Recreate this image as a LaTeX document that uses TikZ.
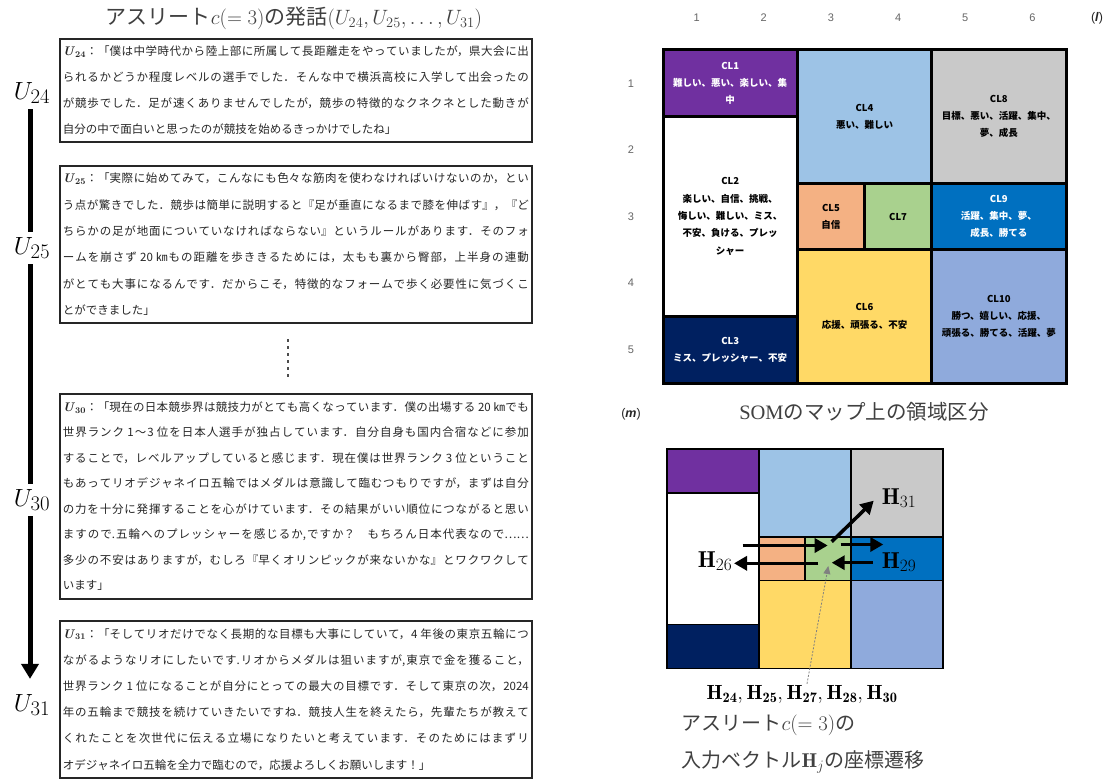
\documentclass[tikz,border=0pt]{standalone}
\usepackage{fontspec}
\usetikzlibrary{arrows.meta}
\newfontfamily\jp{Noto Sans CJK JP}
\newfontfamily\lsans{Liberation Sans}
\newfontfamily\lserif{Liberation Serif}
\XeTeXlinebreaklocale "ja"
\XeTeXlinebreakskip=0pt plus 2pt minus 0.2pt
\setlength\parindent{0pt}
\hbadness=10000
\tolerance=9999
\definecolor{cpur}{HTML}{7030A0}
\definecolor{cnavy}{HTML}{002060}
\definecolor{clblue}{HTML}{9DC3E6}
\definecolor{corange}{HTML}{F4B183}
\definecolor{cgreen}{HTML}{A9D18E}
\definecolor{cyellow}{HTML}{FFD966}
\definecolor{cgray}{HTML}{C9C9C9}
\definecolor{cblue}{HTML}{0070C0}
\definecolor{cperi}{HTML}{8FAADC}
\definecolor{captxt}{HTML}{404040}
\newcommand{\bH}[1]{\mathbf{H}_{\mathbf{#1}}}
\newcommand{\qU}[1]{{\rmfamily\bfseries\fontsize{12.5}{12.5}\selectfont\textit{U}\textsubscript{#1}}}
\begin{document}
\begin{tikzpicture}[x=1pt,y=-1pt,
  quote/.style={draw=black!85, line width=1.6, text width=466, inner xsep=3, inner ysep=0,
    align=justify, anchor=north west, text=black!85},
  ulabel/.style={font=\fontsize{28}{30}\selectfont, inner xsep=2, inner ysep=5},
  axisline/.style={line width=5},
  cell/.style={draw=black, line width=3, inner sep=0, align=center,
    font=\jp\bfseries\fontsize{9.5}{17.3}\selectfont},
  bcell/.style={draw=black, line width=1.4, inner sep=0},
  lab/.style={font=\lsans\fontsize{11}{12}\selectfont, text=black!60},
  harrow/.style={line width=3.5, -{Triangle[length=13pt,width=14pt]}},
  hlab/.style={font=\fontsize{23}{24}\selectfont, inner sep=1},
  captext/.style={text=captxt, anchor=west, font=\fontsize{20}{22}\selectfont}
]
\useasboundingbox (0,0) rectangle (1110,781);
\fill[white] (0,0) rectangle (1110,781);

% ---------- title ----------
\node[font=\fontsize{21}{24}\selectfont, text=captxt] (title) at (294,18) {{\jp アスリート}$c(=3)${\jp の発話}$(U_{24},U_{25},\dots,U_{31})$};

% ---------- quotes ----------
\node[quote, minimum height=103, font=\jp\fontsize{11.5}{26}\selectfont] (q24) at (59,38) {%
\qU{24}：「僕は中学時代から陸上部に所属して長距離走をやっていましたが，県大会に出\linebreak
られるかどうか程度レベルの選手でした．そんな中で横浜高校に入学して出会ったの\linebreak
が競歩でした．足が速くありませんでしたが，競歩の特徴的なクネクネとした動きが\linebreak
自分の中で面白いと思ったのが競技を始めるきっかけでしたね」};

\node[quote, minimum height=157, font=\jp\fontsize{11.5}{26.3}\selectfont] (q25) at (59,165) {%
\qU{25}：「実際に始めてみて，こんなにも色々な筋肉を使わなければいけないのか，とい\linebreak
う点が驚きでした．競歩は簡単に説明すると『足が垂直になるまで膝を伸ばす』，『ど\linebreak
ちらかの足が地面についていなければならない』というルールがあります．そのフォ\linebreak
ームを崩さず 20 ㎞もの距離を歩ききるためには，太もも裏から臀部，上半身の連動\linebreak
がとても大事になるんです．だからこそ，特徴的なフォームで歩く必要性に気づくこ\linebreak
とができました」};

\draw[black!70, line width=2.5, dash pattern=on 2.5pt off 4.5pt] (288,339) -- (288,378);

\node[quote, minimum height=205, font=\jp\fontsize{11.5}{25.5}\selectfont] (q30) at (59,393) {%
\qU{30}：「現在の日本競歩界は競技力がとても高くなっています．僕の出場する 20 ㎞でも\linebreak
世界ランク 1～3 位を日本人選手が独占しています．自分自身も国内合宿などに参加\linebreak
することで，レベルアップしていると感じます．現在僕は世界ランク 3 位ということ\linebreak
もあってリオデジャネイロ五輪ではメダルは意識して臨むつもりですが，まずは自分\linebreak
の力を十分に発揮することを心がけています．その結果がいい順位につながると思い\linebreak
ますので.五輪へのプレッシャーを感じるか,ですか？　もちろん日本代表なので……\linebreak
多少の不安はありますが，むしろ『早くオリンピックが来ないかな』とワクワクして\linebreak
います」};

\node[quote, minimum height=157, font=\jp\fontsize{11.5}{26.2}\selectfont] (q31) at (59,620) {%
\qU{31}：「そしてリオだけでなく長期的な目標も大事にしていて，4 年後の東京五輪につ\linebreak
ながるようなリオにしたいです.リオからメダルは狙いますが,東京で金を獲ること，\linebreak
世界ランク 1 位になることが自分にとっての最大の目標です．そして東京の次，2024\linebreak
年の五輪まで競技を続けていきたいですね．競技人生を終えたら，先輩たちが教えて\linebreak
くれたことを次世代に伝える立場になりたいと考えています．そのためにはまずリ\linebreak
オデジャネイロ五輪を全力で臨むので，応援よろしくお願いします！」};

% ---------- left axis ----------
\node[ulabel] (u24) at (32,93) {$U_{24}$};
\node[ulabel] (u25) at (32,248) {$U_{25}$};
\node[ulabel] (u30) at (32,500) {$U_{30}$};
\node[ulabel] (u31) at (32,705) {$U_{31}$};
\coordinate (ax) at (30,0);
\draw[axisline] (u24.south -| ax) -- (u25.north -| ax);
\draw[axisline] (u25.south -| ax) -- (u30.north -| ax);
\draw[axisline, -{Triangle[length=15pt,width=17pt]}, shorten >=10pt] (u30.south -| ax) -- (u31.north -| ax);

% ---------- SOM map ----------
\node[lab] (c1) at (696.6,18) {1};
\node[lab] (c2) at (763.75,18) {2};
\node[lab] (c3) at (830.9,18) {3};
\node[lab] (c4) at (898.1,18) {4};
\node[lab] (c5) at (965.25,18) {5};
\node[lab] (c6) at (1032.4,18) {6};
\node[lab, text=black!85, font=\lsans\fontsize{12.5}{13}\selectfont] (cl) at (1097,18) {(\textbf{\textit{l}})};
\node[lab] (r1) at (631,83.3) {1};
\node[lab] (r2) at (631,149.9) {2};
\node[lab] (r3) at (631,216.5) {3};
\node[lab] (r4) at (631,283.1) {4};
\node[lab] (r5) at (631,349.7) {5};
\node[lab, text=black!85, font=\lsans\fontsize{12.5}{13}\selectfont] (rm) at (631,414) {(\textbf{\textit{m}})};

\node[cell, fill=cpur, text=white, minimum width=134.33, minimum height=66.6] (cl1) at (730.17,83.3) {CL1\\難しい、悪い、楽しい、集\\中};
\node[cell, fill=white, minimum width=134.33, minimum height=199.8] (cl2) at (730.17,216.5) {CL2\\楽しい、自信、挑戦、\\悔しい、難しい、ミス、\\不安、負ける、プレッ\\シャー};
\node[cell, fill=cnavy, text=white, minimum width=134.33, minimum height=66.6] (cl3) at (730.17,349.7) {CL3\\ミス、プレッシャー、不安};
\node[cell, fill=clblue, minimum width=134.33, minimum height=133.2] (cl4) at (864.5,116.6) {CL4\\悪い、難しい};
\node[cell, fill=corange, minimum width=67.17, minimum height=66.6] (cl5) at (830.92,216.5) {CL5\\自信};
\node[cell, fill=cgreen, minimum width=67.17, minimum height=66.6] (cl7) at (898.08,216.5) {CL7};
\node[cell, fill=cyellow, minimum width=134.33, minimum height=133.2] (cl6) at (864.5,316.4) {CL6\\応援、頑張る、不安};
\node[cell, fill=cgray, minimum width=134.33, minimum height=133.2] (cl8) at (998.83,116.6) {CL8\\目標、悪い、活躍、集中、\\夢、成長};
\node[cell, fill=cblue, text=white, minimum width=134.33, minimum height=66.6] (cl9) at (998.83,216.5) {CL9\\活躍、集中、夢、\\成長、勝てる};
\node[cell, fill=cperi, minimum width=134.33, minimum height=133.2] (cl10) at (998.83,316.4) {CL10\\勝つ、嬉しい、応援、\\頑張る、勝てる、活躍、夢};

\node[font=\fontsize{20.5}{22}\selectfont, text=captxt] (somcap) at (864,412) {{\lserif SOM}{\jp のマップ上の領域区分}};

% ---------- trajectory map ----------
\node[bcell, fill=cpur, minimum width=92, minimum height=43.9] (b1) at (713,470.95) {};
\node[bcell, fill=white, minimum width=92, minimum height=131.7] (b2) at (713,558.75) {};
\node[bcell, fill=cnavy, minimum width=92, minimum height=43.9] (b3) at (713,646.55) {};
\node[bcell, fill=clblue, minimum width=92, minimum height=87.8] (b4) at (805,492.9) {};
\node[bcell, fill=corange, minimum width=46, minimum height=43.9] (b5) at (782,558.75) {};
\node[bcell, fill=cgreen, minimum width=46, minimum height=43.9] (b7) at (828,558.75) {};
\node[bcell, fill=cyellow, minimum width=92, minimum height=87.8] (b6) at (805,624.6) {};
\node[bcell, fill=cgray, minimum width=92, minimum height=87.8] (b8) at (897,492.9) {};
\node[bcell, fill=cblue, minimum width=92, minimum height=43.9] (b9) at (897,558.75) {};
\node[bcell, fill=cperi, minimum width=92, minimum height=87.8] (b10) at (897,624.6) {};

\coordinate (a1s) at (742.7,545.5);
\coordinate (a1e) at (827.7,545.5);
\coordinate (a2s) at (818.3,563.3);
\coordinate (a2e) at (734,563.3);
\coordinate (a3s) at (831.7,541.7);
\coordinate (a3e) at (873.7,500.7);
\coordinate (a4s) at (840.7,544.5);
\coordinate (a4e) at (883.3,544.5);
\coordinate (a5s) at (872.7,562.7);
\coordinate (a5e) at (831.7,562.7);
\draw[harrow] (a1s) -- (a1e);
\draw[harrow] (a2s) -- (a2e);
\draw[harrow] (a3s) -- (a3e);
\draw[harrow] (a4s) -- (a4e);
\draw[harrow] (a5s) -- (a5e);

\node[hlab] (h26) at (715,561) {$\mathbf{H}_{26}$};
\node[hlab] (h31) at (899,498) {$\mathbf{H}_{31}$};
\node[hlab] (h29) at (899,562) {$\mathbf{H}_{29}$};

\node[font=\fontsize{20.5}{22}\selectfont, inner sep=1] (hlist) at (802,694) {$\bH{24},\bH{25},\bH{27},\bH{28},\bH{30}$};
\coordinate (gend) at (828.3,566);
\draw[black!50, line width=0.8, dash pattern=on 2pt off 1.5pt, -{Triangle[length=8pt,width=7pt]}] ([xshift=5pt]hlist.north) -- (gend);

\node[captext] (cap1) at (678,725) {{\jp アスリート}$c(=3)${\jp の}};
\node[captext] (cap2) at (678,762) {{\jp 入力ベクトル}$\mathbf{H}_j${\jp の座標遷移}};
\end{tikzpicture}
\end{document}
